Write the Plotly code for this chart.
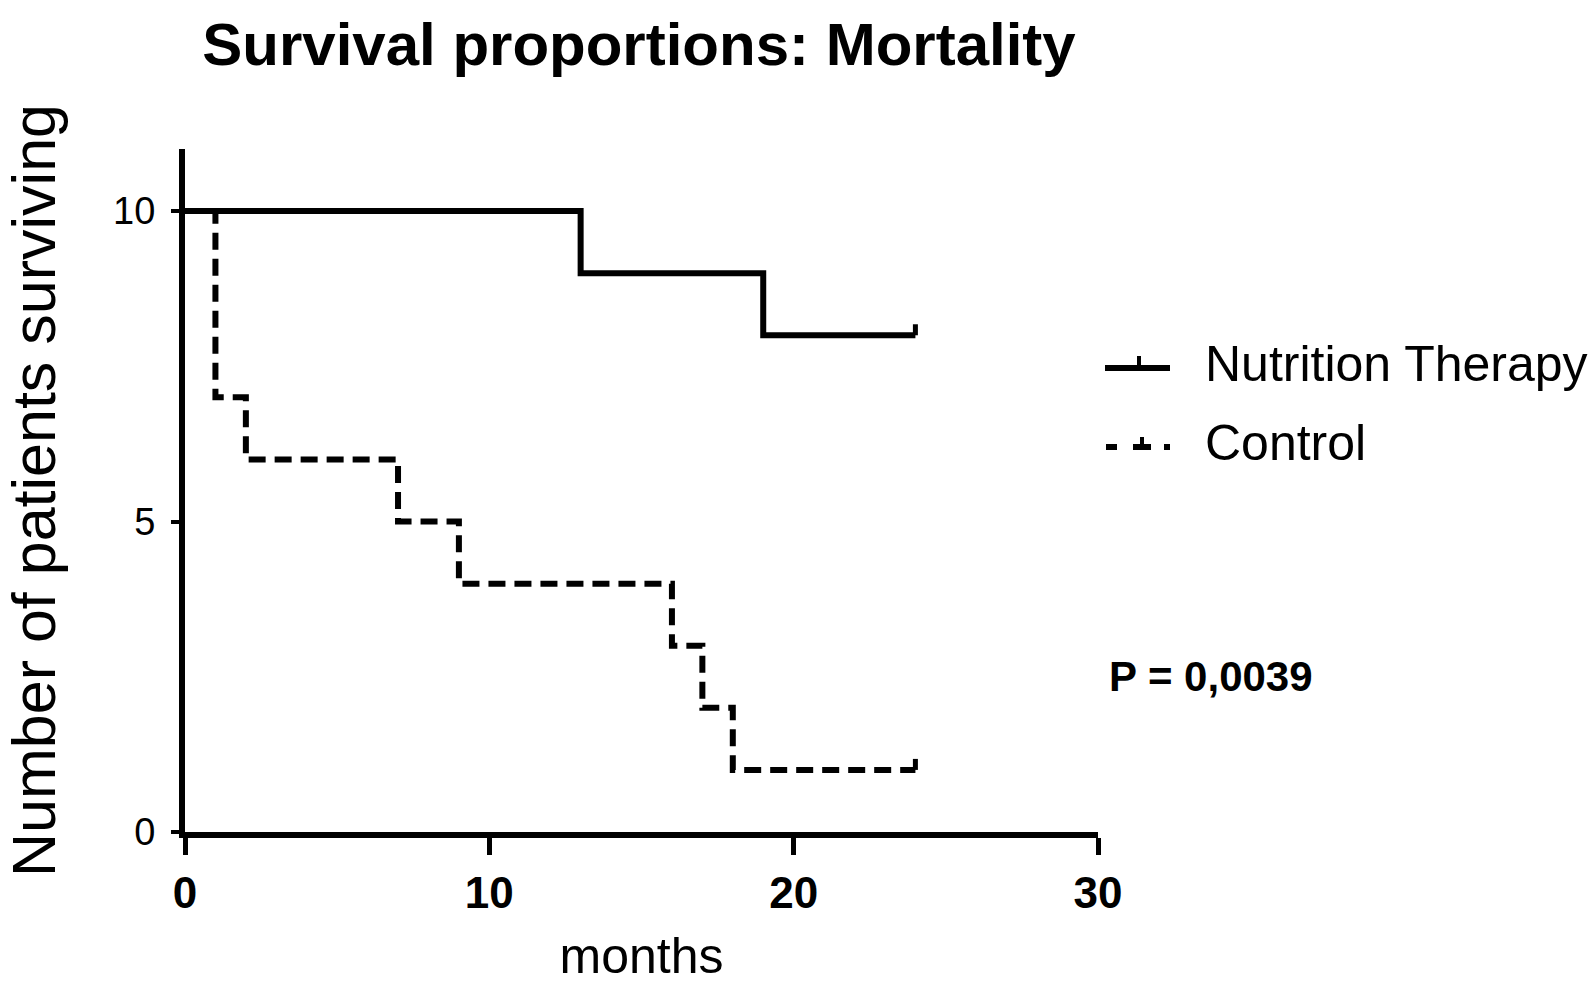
import plotly.graph_objects as go

# Kaplan-Meier step data (event times in months, patients still at risk)
nt_months = [0, 13, 19, 24]
nt_surviving = [10, 9, 8, 8]
ctrl_months = [0, 1, 2, 7, 9, 16, 17, 18, 24]
ctrl_surviving = [10, 7, 6, 5, 4, 3, 2, 1, 1]
# censoring at end of follow-up
censor_month = 24

x_ticks = [0, 10, 20, 30]
y_ticks = [0, 5, 10]
p_value_text = "P = 0,0039"

SANS = "Liberation Sans, Arial, sans-serif"

fig = go.Figure()

fig.add_trace(go.Scatter(
    x=nt_months, y=nt_surviving, mode="lines", line_shape="hv",
    line=dict(color="black", width=6), name="Nutrition Therapy",
    showlegend=False,
))
fig.add_trace(go.Scatter(
    x=ctrl_months, y=ctrl_surviving, mode="lines", line_shape="hv",
    line=dict(color="black", width=6, dash="17px,9px"), name="Control",
    showlegend=False,
))

# censor ticks at the last follow-up time of each arm
for months, surv in ((nt_months, nt_surviving), (ctrl_months, ctrl_surviving)):
    y_at = surv[months.index(censor_month)]
    fig.add_shape(type="line", xref="x", yref="y", x0=censor_month, x1=censor_month,
                  ysizemode="pixel", yanchor=y_at, y0=0, y1=11,
                  line=dict(color="black", width=5))

# legend drawn beside the plot
L, R, T, B = 185, 496, 149, 153
W, H = 1594 - L - R, 985 - T - B
def px(x):
    return (x - L) / W
def py(y):
    return (985 - B - y) / H

legend_rows = [("Nutrition Therapy", 368, "solid"), ("Control", 447, "dashdot")]
for label, ypix, kind in legend_rows:
    fig.add_annotation(text=label, xref="paper", yref="paper", x=px(1203), y=py(ypix - 4),
                       xanchor="left", yanchor="middle", showarrow=False,
                       font=dict(family=SANS, size=50, color="black"))
    if kind == "solid":
        fig.add_shape(type="line", xref="paper", yref="paper", x0=px(1105), x1=px(1170),
                      y0=py(ypix), y1=py(ypix), line=dict(color="black", width=6))
        fig.add_shape(type="line", xref="paper", yref="paper", x0=px(1139), x1=px(1139),
                      ysizemode="pixel", yanchor=py(ypix), y0=0, y1=12,
                      line=dict(color="black", width=4))
    else:
        for a, b in ((1106, 1117), (1133, 1151), (1164, 1170)):
            fig.add_shape(type="line", xref="paper", yref="paper", x0=px(a), x1=px(b),
                          y0=py(ypix), y1=py(ypix), line=dict(color="black", width=6))
        fig.add_shape(type="line", xref="paper", yref="paper", x0=px(1142), x1=px(1142),
                      ysizemode="pixel", yanchor=py(ypix), y0=0, y1=10,
                      line=dict(color="black", width=4))

fig.add_annotation(text="<b>" + p_value_text + "</b>", xref="paper", yref="paper",
                   x=px(1107), y=py(676), xanchor="left", yanchor="middle", showarrow=False,
                   font=dict(family=SANS, size=42, color="black"))

fig.update_layout(
    width=1594, height=985,
    margin=dict(l=L, r=R, t=T, b=B, autoexpand=False),
    paper_bgcolor="white", plot_bgcolor="white",
    title=dict(text="<b>Survival proportions: Mortality</b>",
               x=(639 - L) / W, xref="paper", xanchor="center",
               y=1 - 44 / 985, yref="container", yanchor="middle",
               font=dict(family=SANS, size=60, color="black")),
)

fig.update_xaxes(
    range=[0, 30], tickvals=x_ticks, ticktext=[f"<b>{v}</b>" for v in x_ticks],
    showgrid=False, zeroline=False, showline=True, linecolor="black", linewidth=6,
    ticks="outside", ticklen=17, tickwidth=5, tickcolor="black",
    tickfont=dict(family=SANS, size=44, color="black"),
    title=dict(text="months", font=dict(family=SANS, size=50, color="black"), standoff=24),
)
fig.update_yaxes(
    range=[0, 11], tickvals=y_ticks,
    showgrid=False, zeroline=False, showline=True, linecolor="black", linewidth=6,
    ticks="outside", ticklen=8, tickwidth=4, tickcolor="black",
    ticklabelstandoff=8,
    tickfont=dict(family=SANS, size=38, color="black"),
    title=dict(text="Number of patients surviving",
               font=dict(family=SANS, size=61, color="black"), standoff=46),
)

fig.write_html("out.html")
